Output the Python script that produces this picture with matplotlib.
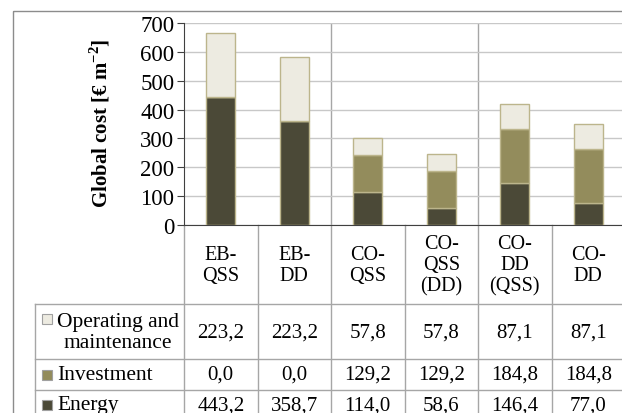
import matplotlib.pyplot as plt
import matplotlib.patches as mpatches
import numpy as np

plt.rcParams['font.family'] = ['Liberation Serif', 'DejaVu Serif']
plt.rcParams['mathtext.fontset'] = 'custom'
plt.rcParams['mathtext.rm'] = 'Liberation Serif'
plt.rcParams['mathtext.bf'] = 'Liberation Serif:bold'

# Datos
categorias = ["EB-\nQSS", "EB-\nDD", "CO-\nQSS", "CO-\nQSS\n(DD)", "CO-\nDD\n(QSS)", "CO-\nDD"]
energia = [443.2, 358.7, 114.0, 58.6, 146.4, 77.0]
inversion = [0.0, 0.0, 129.2, 129.2, 184.8, 184.8]
operacion = [223.2, 223.2, 57.8, 57.8, 87.1, 87.1]
series = ["Operating and\nmaintenance", "Investment", "Energy"]
yticks = [0, 100, 200, 300, 400, 500, 600, 700]

c_energia = '#4b4937'
c_inversion = '#938c5c'
c_operacion = '#edebe1'
c_borde = '#bcb58c'
c_linea = '#a6a6a6'

W, H = 622, 414
fig = plt.figure(figsize=(W / 100, H / 100), dpi=100)

# capa de fondo en pixeles para marco y tabla
bg = fig.add_axes([0, 0, 1, 1])
bg.set_xlim(0, W)
bg.set_ylim(H, 0)
bg.axis('off')

# grafico principal
left, right, top, bottom = 184, 625, 24, 226
ax = fig.add_axes([left / W, (H - bottom) / H, (right - left) / W, (bottom - top) / H])
ax.set_facecolor('none')
x = np.arange(len(categorias)) + 0.5
bw = 0.4
ax.bar(x, energia, bw, color=c_energia, edgecolor=c_borde, linewidth=1, zorder=3)
ax.bar(x, inversion, bw, bottom=energia, color=c_inversion, edgecolor=c_borde, linewidth=1, zorder=3)
base2 = np.array(energia) + np.array(inversion)
ax.bar(x, operacion, bw, bottom=base2, color=c_operacion, edgecolor=c_borde, linewidth=1, zorder=3)
ax.set_xlim(0, 6)
ax.set_ylim(0, 700)
ax.set_yticks(yticks)
ax.set_yticklabels([str(t) for t in yticks], fontsize=16.5)
ax.set_xticks([])
ax.yaxis.grid(True, color='#c8c8c8', linewidth=1, zorder=0)
ax.axvline(2, color=c_linea, linewidth=1, zorder=1)
ax.axvline(4, color=c_linea, linewidth=1, zorder=1)
for s in ['top', 'right']:
    ax.spines[s].set_visible(False)
ax.spines['left'].set_color('#404040')
ax.spines['bottom'].set_color('#404040')
ax.tick_params(axis='y', length=5, color='#404040', pad=2)
ax.set_ylabel(r'Global cost [€ m$^{\mathbf{-2}}$]', fontsize=15, fontweight='bold')
ax.yaxis.set_label_coords(-0.163, 0.51)

# marco exterior
bg.add_patch(mpatches.Rectangle((13, 12), 800, 600, fill=False, edgecolor='#8c8c8c', linewidth=1))

# tabla
cw = (right - left) / len(categorias)
edges = [left + cw * i for i in range(len(categorias) + 1)]
for e in edges[:-1]:
    bg.plot([e, e], [bottom, 430], color=c_linea, linewidth=1)
bg.plot([35, 35], [305, 430], color=c_linea, linewidth=1)
for yy in [305, 360, 391]:
    bg.plot([35, W], [yy, yy], color=c_linea, linewidth=1)

for i, cat in enumerate(categorias):
    cx = edges[i] + cw / 2
    bg.text(cx, 266, cat, ha='center', va='center', fontsize=14.5, linespacing=1.15)

filas_y = [333, 375.5, 406]
filas = [operacion, inversion, energia]
colores = [c_operacion, c_inversion, c_energia]
for fy, vals in zip(filas_y, filas):
    for i, v in enumerate(vals):
        cx = edges[i] + cw / 2
        bg.text(cx, fy, f"{v:.1f}".replace('.', ','), ha='center', va='center', fontsize=15)

# etiquetas de la leyenda
sw_y = [320, 375.5, 406]
for lab, col, fy, sy in zip(series, colores, filas_y, sw_y):
    bg.add_patch(mpatches.Rectangle((41.5, sy - 5), 10, 10, facecolor=col, edgecolor='#a0a0a0', linewidth=0.8))
    if '\n' in lab:
        bg.text(118, fy, lab, ha='center', va='center', fontsize=15.5, linespacing=1.1)
    else:
        bg.text(57, fy, lab, ha='left', va='center', fontsize=15.5)

fig.savefig('out.png', dpi=100)
